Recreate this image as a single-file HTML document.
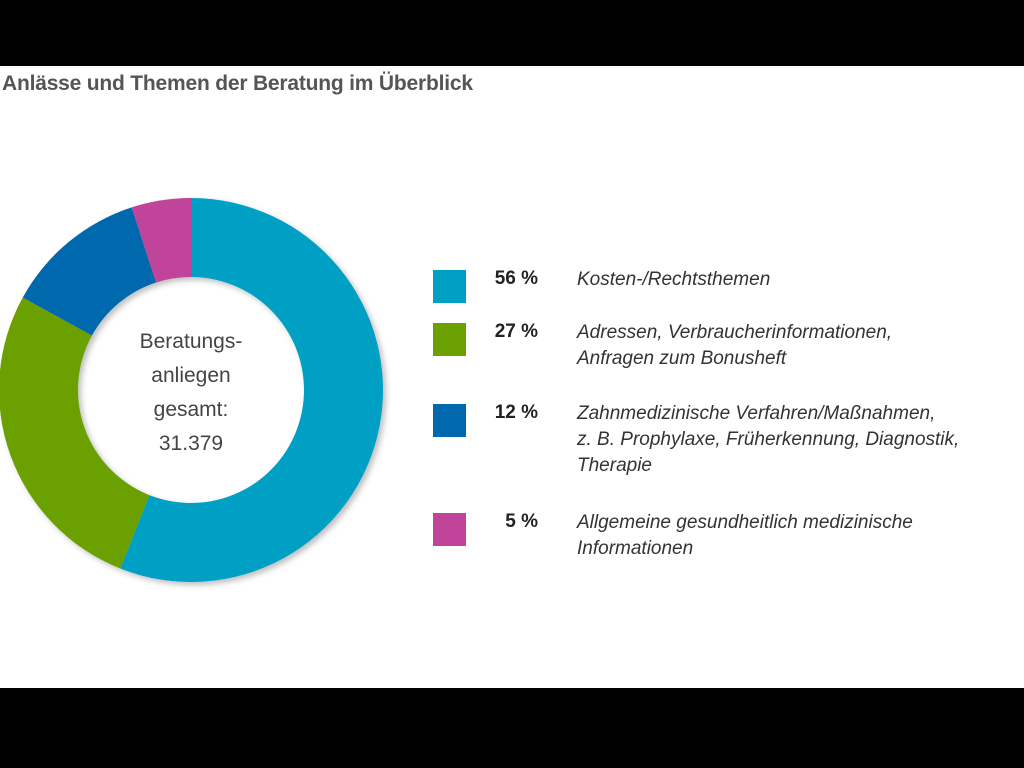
<!DOCTYPE html>
<html><head><meta charset="utf-8"><style>
body{margin:0;width:1024px;height:768px;background:#000;overflow:hidden;font-family:"Liberation Sans",sans-serif}
#panel{position:absolute;left:0;top:66px;width:1024px;height:622px;background:#fff}
#title{position:absolute;left:2px;top:72px;font-size:21px;font-weight:bold;color:#555;letter-spacing:-0.2px}
.pct{position:absolute;width:80px;left:458px;text-align:right;font-size:19px;font-weight:bold;color:#222}
.lbl{position:absolute;left:577px;font-size:19px;font-style:italic;color:#333;line-height:26px}
.sq{position:absolute;left:433px;width:33px;height:33px}
</style></head><body>
<div id="panel"></div>
<div id="title">Anlässe und Themen der Beratung im Überblick</div>
<svg id="donut" width="1024" height="768" style="position:absolute;left:0;top:0">
<defs><filter id="sh" x="-10%" y="-10%" width="130%" height="130%"><feDropShadow dx="3" dy="3" stdDeviation="3" flood-opacity="0.25"/></filter></defs>
<g id="slices" filter="url(#sh)"></g>
<text x="191" y="348" text-anchor="middle" font-size="21" fill="#444">Beratungs-</text>
<text x="191" y="382" text-anchor="middle" font-size="21" fill="#444">anliegen</text>
<text x="191" y="416" text-anchor="middle" font-size="21" fill="#444">gesamt:</text>
<text x="191" y="450" text-anchor="middle" font-size="21" fill="#444">31.379</text>
</svg>
<div id="legend"></div>
<script>
const categories=["Kosten-/Rechtsthemen","Adressen, Verbraucherinformationen,<br>Anfragen zum Bonusheft","Zahnmedizinische Verfahren/Maßnahmen,<br>z. B. Prophylaxe, Früherkennung, Diagnostik,<br>Therapie","Allgemeine gesundheitlich medizinische<br>Informationen"];
const values=[56,27,12,5];
const colors=["#009fc4","#6aa000","#0068ad","#c0449a"];
const legendTops=[270,323,404,513];
const cx=191,cy=390,R=192,r=113;
const total=values.reduce((a,b)=>a+b,0);
function pt(rad,a){return [cx+rad*Math.sin(a),cy-rad*Math.cos(a)];}
const g=document.getElementById('slices');
let acc=0;
values.forEach((v,i)=>{
 const a0=acc/total*2*Math.PI;acc+=v;const a1=acc/total*2*Math.PI;
 const L=(a1-a0)>Math.PI?1:0;
 const [x0,y0]=pt(R,a0),[x1,y1]=pt(R,a1),[x2,y2]=pt(r,a1),[x3,y3]=pt(r,a0);
 const p=document.createElementNS('http://www.w3.org/2000/svg','path');
 p.setAttribute('d',`M${x0},${y0}A${R},${R} 0 ${L} 1 ${x1},${y1}L${x2},${y2}A${r},${r} 0 ${L} 0 ${x3},${y3}Z`);
 p.setAttribute('fill',colors[i]);
 
 
 g.appendChild(p);
});
const lg=document.getElementById('legend');
values.forEach((v,i)=>{
 const t=legendTops[i];
 const s=document.createElement('div');s.className='sq';s.style.top=t+'px';s.style.background=colors[i];
 
 
 lg.appendChild(s);
 const p=document.createElement('div');p.className='pct';p.style.top=(t-2)+'px';p.textContent=v+' %';
 
 
 lg.appendChild(p);
 const l=document.createElement('div');l.className='lbl';l.style.top=(t-3)+'px';l.innerHTML=categories[i];
 
 
 lg.appendChild(l);
});
</script>
</body></html>
